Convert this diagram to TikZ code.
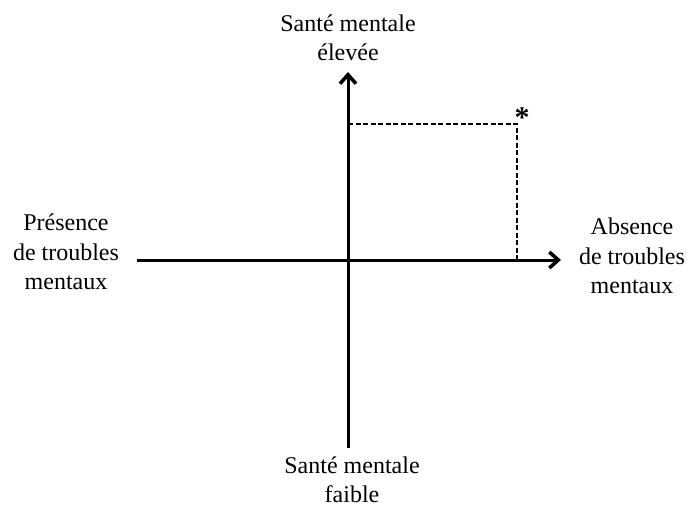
\documentclass[tikz,border=0pt]{standalone}
\usepackage{fontspec}
\setmainfont{Liberation Serif}
\usetikzlibrary{arrows.meta}

\tikzset{
  axe/.style={line width=3pt,-{Straight Barb[length=9pt,width=16pt,line width=3.6pt]}},
  pointille/.style={line width=1.7pt,dash pattern=on 5pt off 2.5pt},
  etiquette/.style={align=center,inner sep=0pt,font=\fontsize{24}{29.5}\selectfont}
}

\begin{document}
\begin{tikzpicture}[x=1pt,y=1pt,yscale=-1,xscale=1]
\useasboundingbox (0,0) rectangle (692,507);

%Coordinates of the axes
\coordinate (gauche) at (137,260);
\coordinate (droite) at (561,260);
\coordinate (bas) at (348,448);
\coordinate (haut) at (348,72);
\coordinate (coin) at (517,124);
\coordinate (axey) at (348,124);
\coordinate (axex) at (517,260);

%Straight Lines
\draw [axe] (gauche) -- (droite);
%Straight Lines
\draw [axe] (bas) -- (haut);
%Dashed Lines
\draw [pointille] (axey) -- (coin) -- (axex);

% Text Node
\node [etiquette] (eleve) at (348,38) {Santé mentale\\élevée};
% Text Node
\node [etiquette] (faible) at (352,480) {Santé mentale\\faible};
% Text Node
\node [etiquette] (presence) at (66,252) {Présence\\de troubles\\mentaux};
% Text Node
\node [etiquette] (absence) at (632,256) {Absence\\de troubles\\mentaux};
% Text Node
\node [inner sep=0pt,font=\fontsize{30}{30}\selectfont\bfseries] (etoile) at (522,118) {*};

\end{tikzpicture}
\end{document}
